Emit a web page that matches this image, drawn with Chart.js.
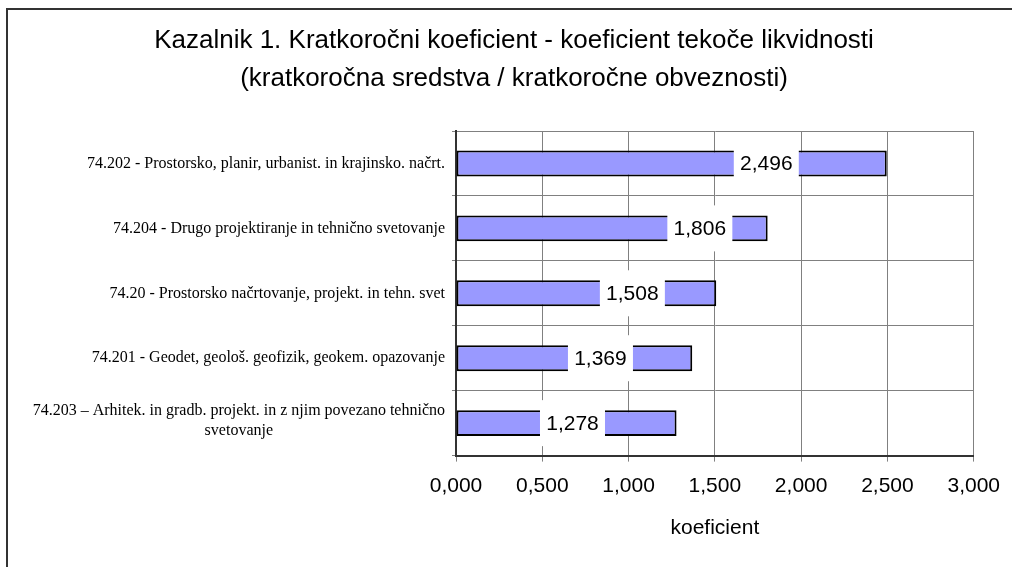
<!DOCTYPE html>
<html>
<head>
<meta charset="utf-8">
<script src="https://cdn.jsdelivr.net/npm/chart.js@4.4.1/dist/chart.umd.min.js"></script>
<style>
  html, body { margin: 0; padding: 0; background: #fff; }
  #wrap { width: 1012px; height: 567px; position: relative; }
</style>
</head>
<body>
<div id="wrap"><canvas id="kazalnik"></canvas></div>
<script>
// kategorije (dejavnosti)
const categories = [
  ["74.202 - Prostorsko, planir, urbanist. in krajinsko. načrt."],
  ["74.204 - Drugo projektiranje in tehnično svetovanje"],
  ["74.20 - Prostorsko načrtovanje, projekt. in tehn. svet"],
  ["74.201 - Geodet, geološ. geofizik, geokem. opazovanje"],
  ["74.203 – Arhitek. in gradb. projekt. in z njim povezano tehnično", "svetovanje"],
];

// vrednosti koeficienta
const values = [2.496, 1.806, 1.508, 1.369, 1.278];

// os x
const xMin = 0;
const xMax = 3;
const xStep = 0.5;

// kje stoji oznaka vrednosti (v enotah osi x)
const labelAt = [1.798, 1.413, 1.022, 0.837, 0.675];

const fmt = (v) => v.toFixed(3).replace(".", ",");
const sans = "'Liberation Sans', Arial, sans-serif";

// okvir okrog grafa
const framePlugin = {
  id: "frame",
  beforeDraw(chart) {
    const ctx = chart.ctx;
    ctx.save();
    ctx.fillStyle = "#fff";
    ctx.fillRect(0, 0, chart.width, chart.height);
    ctx.strokeStyle = "#333";
    ctx.lineWidth = 2;
    ctx.beginPath();
    ctx.moveTo(7, chart.height);
    ctx.lineTo(7, 9);
    ctx.lineTo(chart.width, 9);
    ctx.stroke();
    ctx.restore();
  },
};

// imena kategorij (zadnje v dveh vrsticah, druga vrstica na sredini)
const catLabelsPlugin = {
  id: "catLabels",
  afterDraw(chart) {
    const ctx = chart.ctx;
    const y = chart.scales.y;
    const right = chart.chartArea.left - 11;
    ctx.save();
    ctx.font = "16px 'Liberation Serif', 'Times New Roman', serif";
    ctx.fillStyle = "#000";
    ctx.textBaseline = "middle";
    categories.forEach((lines, i) => {
      const cy = y.getPixelForValue(i);
      if (lines.length === 1) {
        ctx.textAlign = "right";
        ctx.fillText(lines[0], right, cy);
      } else {
        const w = ctx.measureText(lines[0]).width;
        const cx = right - w / 2;
        ctx.textAlign = "center";
        ctx.fillText(lines[0], cx, cy - 12);
        ctx.fillText(lines[1], cx, cy + 8);
      }
    });
    ctx.restore();
  },
};

// oznake vrednosti na belem ozadju
const valueLabelsPlugin = {
  id: "valueLabels",
  afterDatasetsDraw(chart) {
    const ctx = chart.ctx;
    const x = chart.scales.x;
    const bars = chart.getDatasetMeta(0).data;
    ctx.save();
    ctx.font = "21px " + sans;
    ctx.textAlign = "center";
    ctx.textBaseline = "middle";
    bars.forEach((bar, i) => {
      const cx = x.getPixelForValue(labelAt[i]);
      ctx.fillStyle = "#fff";
      ctx.fillRect(cx - 32.5, bar.y - 23, 65, 46);
      ctx.fillStyle = "#000";
      ctx.fillText(fmt(values[i]), cx, bar.y + 1);
    });
    ctx.restore();
  },
};

new Chart(document.getElementById("kazalnik"), {
  type: "bar",
  data: {
    labels: categories,
    datasets: [
      {
        data: values,
        backgroundColor: "#9999FF",
        borderColor: "#000",
        borderWidth: 2,
        borderSkipped: false,
        barPercentage: 0.4,
        categoryPercentage: 1.0,
      },
    ],
  },
  options: {
    indexAxis: "y",
    responsive: true,
    maintainAspectRatio: false,
    animation: false,
    layout: {
      padding: { top: 5, left: 54, right: 38, bottom: 26 },
    },
    plugins: {
      legend: { display: false },
      tooltip: { enabled: false },
      title: {
        display: true,
        text: [
          "Kazalnik 1. Kratkoročni koeficient - koeficient tekoče likvidnosti",
          "(kratkoročna sredstva / kratkoročne obveznosti)",
        ],
        color: "#000",
        font: {
          family: sans,
          size: 26,
          weight: "normal",
          lineHeight: 38 / 26,
        },
        padding: { top: 17, bottom: 33 },
      },
    },
    scales: {
      x: {
        min: xMin,
        max: xMax,
        ticks: {
          stepSize: xStep,
          color: "#000",
          padding: 12,
          maxRotation: 0,
          font: { family: sans, size: 21 },
          callback: (v) => fmt(v),
        },
        grid: {
          color: "#808080",
          lineWidth: 1,
          tickLength: 6,
        },
        border: { color: "#333", width: 2 },
        title: {
          display: true,
          text: "koeficient",
          color: "#000",
          font: { family: sans, size: 21 },
          padding: { top: 5, bottom: 0 },
        },
      },
      y: {
        ticks: { display: false },
        grid: {
          color: "#808080",
          lineWidth: 1,
          tickLength: 4,
        },
        border: { color: "#333", width: 2 },
        afterFit(scale) {
          scale.width = 456 - 54;
        },
      },
    },
  },
  plugins: [framePlugin, catLabelsPlugin, valueLabelsPlugin],
});
</script>
</body>
</html>
